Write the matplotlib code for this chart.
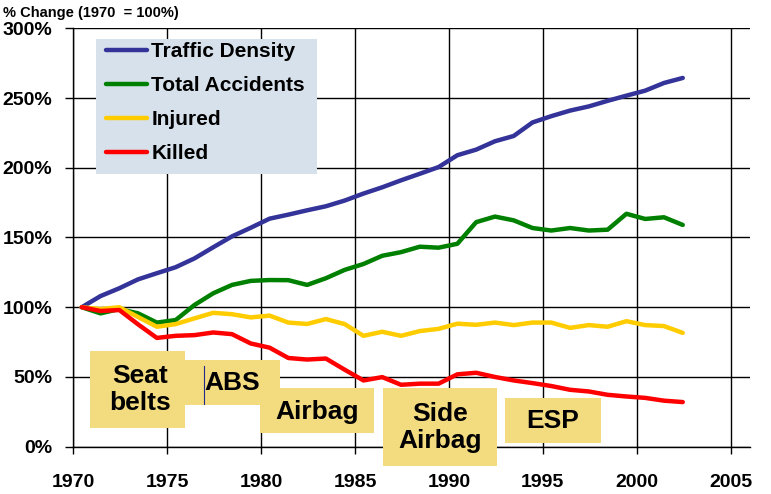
import numpy as np
import matplotlib
matplotlib.use("Agg")
import matplotlib.pyplot as plt
from matplotlib.patches import Rectangle
from matplotlib.lines import Line2D

# ---------------- data ----------------
years = list(range(1970, 2003))
traffic_density = [100, 108, 113.6, 120, 124.4, 128.7, 135, 143, 150.8, 157, 163.5,
                   166.4, 169.5, 172.4, 176.5, 181.5, 186, 191, 195.7, 200.5, 209,
                   213, 219, 222.8, 232.5, 237, 241, 244, 248, 251.7, 255.3, 260.8, 264.4]
total_accidents = [100, 95.6, 98.7, 95.6, 89, 90.8, 101.6, 110, 116, 118.9, 119.5,
                   119.4, 116, 120.8, 126.8, 131, 136.9, 139.5, 143.4, 142.7, 145.5,
                   161, 165, 162.3, 156.8, 155, 156.8, 155, 155.6, 167, 163.3, 164.5, 159]
injured = [100, 98.7, 100, 93, 86, 87.9, 92, 96, 95, 92.7, 94, 89, 88, 91.5, 87.9,
           79.5, 82.4, 79.5, 82.9, 84.5, 88.2, 87.4, 89, 87.2, 89, 89, 85.2, 87.2,
           86, 90, 87.2, 86.5, 81.6]
killed = [100, 97.3, 98, 87.7, 78, 79.5, 80, 81.9, 80.7, 74, 71, 63.6, 62.5, 63.2,
          55.2, 47.5, 49.9, 44.4, 45.2, 45.2, 51.9, 53, 50, 47.5, 45.6, 43.5, 40.8,
          39.6, 37.2, 36, 35, 33, 32]
series_names = ["Traffic Density", "Total Accidents", "Injured", "Killed"]
series_colors = ["#333399", "#008000", "#FFCC00", "#FF0000"]

x_ticks = [1970, 1975, 1980, 1985, 1990, 1995, 2000, 2005]
y_ticks = [0, 50, 100, 150, 200, 250, 300]

safety_labels = ["Seat\nbelts", "ABS", "Airbag", "Side\nAirbag", "ESP"]

# ---------------- layout ----------------
# boxes: (x0, x1, y0, y1) in data coordinates, text centre (x, y)
box_layout = [
    ((1970.89, 1975.95, 13.6, 68.6), (1973.55, 41.0)),
    ((1975.95, 1981.00, 29.9, 62.2), (1978.45, 46.0)),
    ((1979.94, 1986.01, 10.0, 42.1), (1982.96, 25.0)),
    ((1986.49, 1992.54, -13.6, 42.1), (1989.52, 13.5)),
    ((1992.98, 1998.09, 2.9, 34.9), (1995.53, 18.6)),
]
box_color = "#F3DB80"
legend_bg = "#D7E1EB"
FONT = "Liberation Sans"

fig = plt.figure(figsize=(7.71, 4.94), dpi=100)
ax = fig.add_axes([73.3 / 771, 1 - 446.7 / 494, (750 - 73.3) / 771, (446.7 - 28.3) / 494])

xpos = np.array(years) + 0.45
all_series = [traffic_density, total_accidents, injured, killed]
for vals, name, col in zip(all_series, series_names, series_colors):
    ax.plot(xpos, vals, color=col, lw=3.2, label=name, zorder=3,
            solid_joinstyle="round", solid_capstyle="round")

ax.set_xlim(1970, 2006.03)
ax.set_ylim(0, 300)
ax.set_xticks(x_ticks)
ax.set_yticks(y_ticks)
ax.set_yticklabels([f"{v}%" for v in y_ticks])
ax.grid(True, color="black", lw=1.0, zorder=1)
ax.set_axisbelow(True)
for s in ["top", "right"]:
    ax.spines[s].set_visible(False)
for s in ["left", "bottom"]:
    ax.spines[s].set_linewidth(1.0)
    ax.spines[s].set_zorder(1)
ax.tick_params(axis="y", direction="out", length=6, width=1.0, pad=9)
ax.tick_params(axis="x", direction="out", length=5, width=1.0, pad=15)
for lab in ax.get_xticklabels() + ax.get_yticklabels():
    lab.set_fontfamily(FONT)
    lab.set_fontweight("bold")
    lab.set_fontsize(14)

# annotation boxes
for label, ((x0, x1, y0, y1), (tx, ty)) in zip(safety_labels, box_layout):
    ax.add_patch(Rectangle((x0, y0), x1 - x0, y1 - y0, facecolor=box_color,
                           edgecolor="none", zorder=5, clip_on=False))
    ax.text(tx, ty, label, ha="center", va="center", fontsize=19,
            fontweight="bold", family=FONT, zorder=6, linespacing=1.15,
            clip_on=False)

# small text cursor artifact next to ABS
ax.add_line(Line2D([1976.96, 1976.96], [30.6, 57.9], color="#1F2A8A", lw=0.8,
                   zorder=7, clip_on=False))

# legend background panel
ax.add_patch(Rectangle((0.0335, 0.6518), 0.3597 - 0.0335, 0.9744 - 0.6518,
                       transform=ax.transAxes, facecolor=legend_bg,
                       edgecolor="none", zorder=4))
leg = ax.legend(loc="upper left", bbox_to_anchor=(0.0483, 0.967),
                borderaxespad=0, frameon=False, borderpad=0,
                prop={"family": FONT, "weight": "bold", "size": 15},
                handlelength=1.95, handletextpad=0.22, labelspacing=0.72)
for h in leg.get_lines():
    h.set_linewidth(3.2)
leg.set_zorder(5)

fig.text(3 / 771, 1 - 12.5 / 494, "% Change (1970  = 100%)", ha="left", va="center",
         fontsize=10.5, fontweight="bold", family=FONT)

fig.savefig("out.png", dpi=100)
